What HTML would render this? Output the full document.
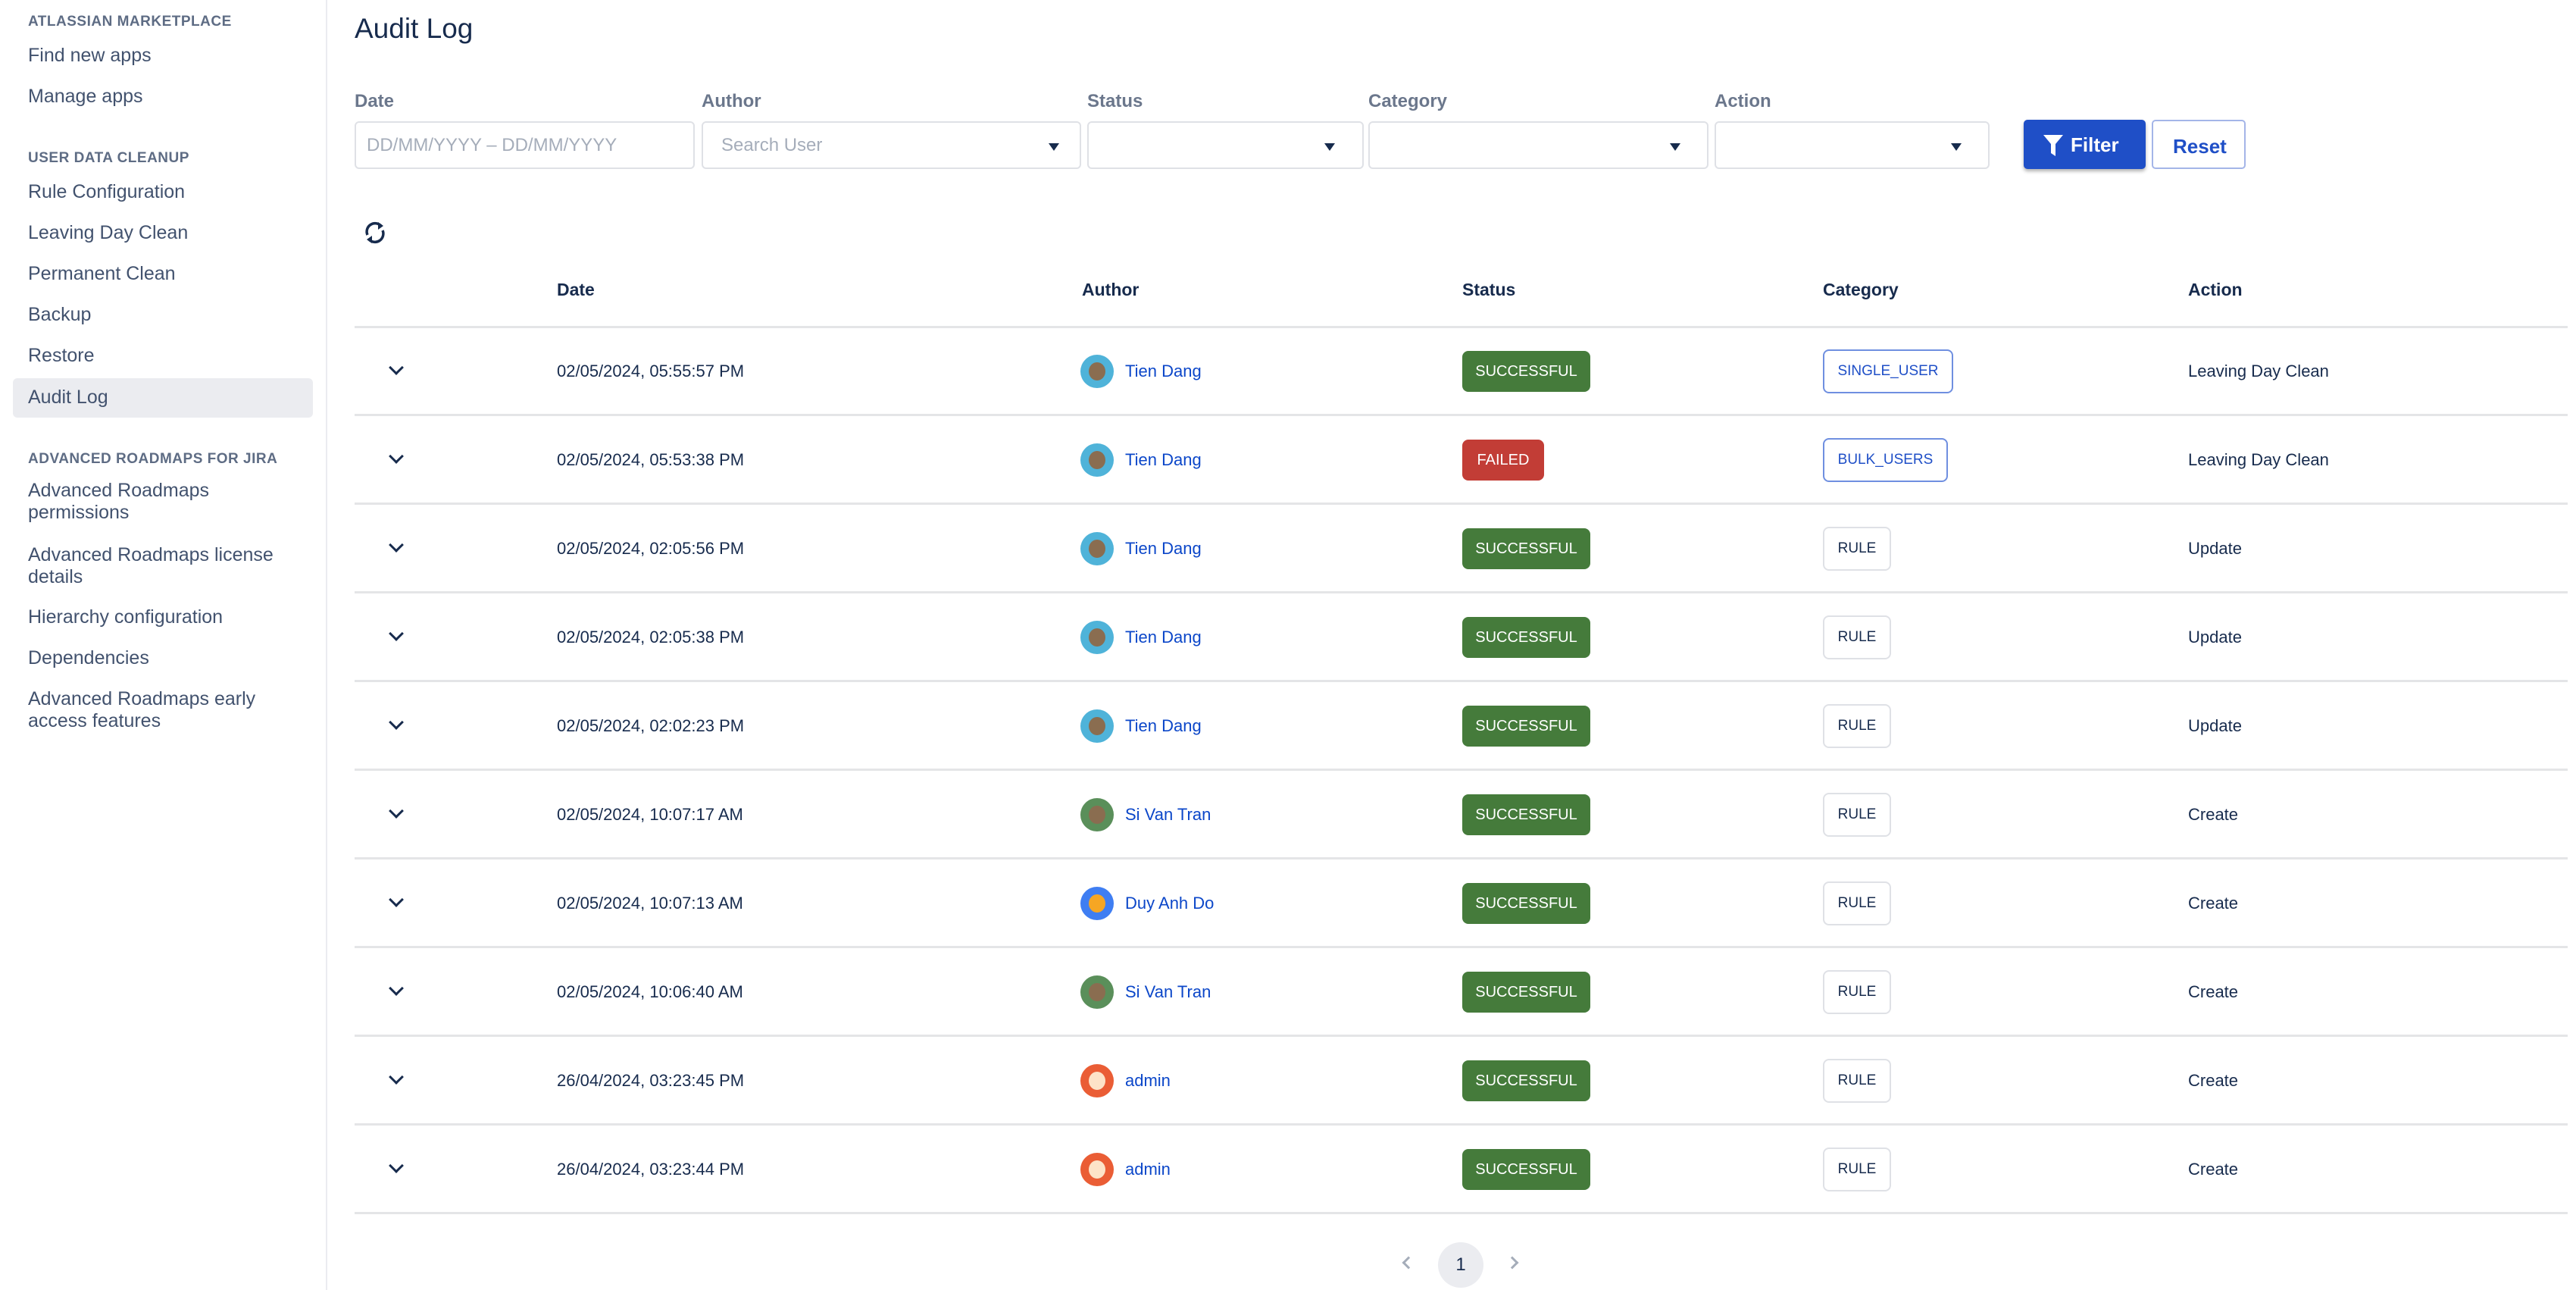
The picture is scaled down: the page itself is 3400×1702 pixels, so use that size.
<!DOCTYPE html>
<html><head><meta charset="utf-8"><style>
*{margin:0;padding:0;box-sizing:border-box}
body{width:3400px;height:1702px;background:#fff;font-family:"Liberation Sans",sans-serif;color:#172b4d;position:relative;overflow:hidden}
.a{position:absolute;white-space:nowrap}
.sb{position:absolute;left:0;top:0;width:432px;height:1702px;border-right:2px solid #ebecf0}
.sh{position:absolute;left:37px;font-size:19px;font-weight:bold;color:#5e6c84;letter-spacing:0.5px}
.ni{position:absolute;left:37px;font-size:25px;color:#42526e;line-height:29px}
.lbl{position:absolute;top:120px;font-size:24px;font-weight:bold;color:#6b778c}
.inp{position:absolute;top:160px;height:63px;border:2px solid #dfe1e6;border-radius:6px;background:#fff}
.tri{position:absolute;top:27px;width:0;height:0;border-left:7px solid transparent;border-right:7px solid transparent;border-top:10px solid #172b4d}
.th{position:absolute;top:369px;font-size:23px;font-weight:bold;color:#172b4d}
.line{position:absolute;left:468px;width:2921px;height:3px;background:#e4e5e7}
.cell{position:absolute;font-size:22px;color:#172b4d}
.badge{position:absolute;height:54px;border-radius:8px;color:#fff;font-size:20px;line-height:54px;text-align:center}
.cat{position:absolute;height:58px;border:2px solid #dfe1e6;border-radius:8px;font-size:19px;line-height:54px;text-align:center;color:#172b4d}
.av{position:absolute;width:44px;height:44px;border-radius:50%}
.nm{position:absolute;font-size:22px;color:#0c47c9}
.chev{position:absolute;width:14px;height:14px;border-right:3px solid #172b4d;border-bottom:3px solid #172b4d;transform:rotate(45deg)}
</style></head><body>
<div class="sb"></div>
<div class="sh" style="top:18px">ATLASSIAN MARKETPLACE</div>
<div class="ni" style="top:59px">Find new apps</div>
<div class="ni" style="top:113px">Manage apps</div>
<div class="sh" style="top:198px">USER DATA CLEANUP</div>
<div class="ni" style="top:239px">Rule Configuration</div>
<div class="ni" style="top:293px">Leaving Day Clean</div>
<div class="ni" style="top:347px">Permanent Clean</div>
<div class="ni" style="top:401px">Backup</div>
<div class="ni" style="top:455px">Restore</div>
<div class="a" style="left:17px;top:499px;width:396px;height:52px;background:#ebecf0;border-radius:6px"></div>
<div class="ni" style="top:510px">Audit Log</div>
<div class="sh" style="top:595px">ADVANCED ROADMAPS FOR JIRA</div>
<div class="ni" style="top:633px">Advanced Roadmaps<br>permissions</div>
<div class="ni" style="top:718px">Advanced Roadmaps license<br>details</div>
<div class="ni" style="top:800px">Hierarchy configuration</div>
<div class="ni" style="top:854px">Dependencies</div>
<div class="ni" style="top:908px">Advanced Roadmaps early<br>access features</div>

<div class="a" style="left:468px;top:17px;font-size:37px;color:#172b4d">Audit Log</div>

<div class="lbl" style="left:468px">Date</div>
<div class="lbl" style="left:926px">Author</div>
<div class="lbl" style="left:1435px">Status</div>
<div class="lbl" style="left:1806px">Category</div>
<div class="lbl" style="left:2263px">Action</div>
<div class="inp" style="left:468px;width:449px"><span class="a" style="left:14px;top:16px;font-size:24px;color:#a5adba">DD/MM/YYYY – DD/MM/YYYY</span></div>
<div class="inp" style="left:926px;width:501px"><span class="a" style="left:24px;top:16px;font-size:24px;color:#a5adba">Search User</span><div class="tri" style="left:456px"></div></div>
<div class="inp" style="left:1435px;width:365px"><div class="tri" style="left:311px"></div></div>
<div class="inp" style="left:1806px;width:449px"><div class="tri" style="left:396px"></div></div>
<div class="inp" style="left:2263px;width:363px"><div class="tri" style="left:310px"></div></div>
<div class="a" style="left:2671px;top:158px;width:161px;height:65px;background:#1f4fc7;border-radius:5px;box-shadow:0 3px 5px rgba(0,0,0,.3)">
<svg class="a" style="left:26px;top:20px" width="26" height="28" viewBox="0 0 26 28"><path d="M0 0H26L16 12V28L10 24V12Z" fill="#fff"/></svg>
<span class="a" style="left:62px;top:18px;font-size:26px;font-weight:bold;color:#fff">Filter</span></div>
<div class="a" style="left:2840px;top:158px;width:124px;height:65px;border:2px solid #a4b5e8;border-radius:5px"><span class="a" style="left:26px;top:18px;font-size:26px;font-weight:bold;color:#1f4fc7">Reset</span></div>

<svg class="a" style="left:479px;top:290px" width="32" height="34" viewBox="0 0 32 34"><path d="M6 20A11 11 0 0 1 24 8" stroke="#172b4d" stroke-width="3.5" fill="none"/><path d="M20 3L27 8L20 13Z" fill="#172b4d"/><path d="M26 14A11 11 0 0 1 8 26" stroke="#172b4d" stroke-width="3.5" fill="none"/><path d="M12 31L5 26L12 21Z" fill="#172b4d"/></svg>

<div class="th" style="left:735px">Date</div>
<div class="th" style="left:1428px">Author</div>
<div class="th" style="left:1930px">Status</div>
<div class="th" style="left:2406px">Category</div>
<div class="th" style="left:2888px">Action</div>
<div class="line" style="top:430px"></div>

<div id="rows"></div>
<script>
var d=[["02/05/2024, 05:55:57 PM","Tien Dang","S","SINGLE_USER","Leaving Day Clean"],
["02/05/2024, 05:53:38 PM","Tien Dang","F","BULK_USERS","Leaving Day Clean"],
["02/05/2024, 02:05:56 PM","Tien Dang","S","RULE","Update"],
["02/05/2024, 02:05:38 PM","Tien Dang","S","RULE","Update"],
["02/05/2024, 02:02:23 PM","Tien Dang","S","RULE","Update"],
["02/05/2024, 10:07:17 AM","Si Van Tran","S","RULE","Create"],
["02/05/2024, 10:07:13 AM","Duy Anh Do","S","RULE","Create"],
["02/05/2024, 10:06:40 AM","Si Van Tran","S","RULE","Create"],
["26/04/2024, 03:23:45 PM","admin","S","RULE","Create"],
["26/04/2024, 03:23:44 PM","admin","S","RULE","Create"]];
var av={"Tien Dang":"#4fb3d9","Si Van Tran":"#5a8f5a","Duy Anh Do":"#3f7ef2","admin":"#ea5d35"};
var h="";
for(var i=0;i<d.length;i++){var c=490+117*i;var r=d[i];
h+='<div class="chev" style="left:516px;top:'+(c-12)+'px"></div>';
h+='<div class="cell" style="left:735px;top:'+(c-13)+'px">'+r[0]+'</div>';
h+='<div class="av" style="left:1426px;top:'+(c-22)+'px;background:'+av[r[1]]+'"><div class="av" style="left:11px;top:10px;width:22px;height:24px;background:'+(r[1]=="admin"?"#fde3c8":r[1]=="Duy Anh Do"?"#f6a623":"#8a6d50")+'"></div></div>';
h+='<div class="nm" style="left:1485px;top:'+(c-13)+'px">'+r[1]+'</div>';
if(r[2]=="S")h+='<div class="badge" style="left:1930px;top:'+(c-27)+'px;width:169px;background:#457b3b">SUCCESSFUL</div>';
else h+='<div class="badge" style="left:1930px;top:'+(c-27)+'px;width:108px;background:#c23d36">FAILED</div>';
var w=r[3]=="SINGLE_USER"?172:r[3]=="BULK_USERS"?165:90;
var bc=r[3]=="RULE"?"#dfe1e6":"#6f8fe0";var tc=r[3]=="RULE"?"#172b4d":"#1f4fc7";
h+='<div class="cat" style="left:2406px;top:'+(c-29)+'px;width:'+w+'px;border-color:'+bc+';color:'+tc+'">'+r[3]+'</div>';
h+='<div class="cell" style="left:2888px;top:'+(c-13)+'px">'+r[4]+'</div>';
h+='<div class="line" style="top:'+(c+56)+'px"></div>';}
document.getElementById("rows").innerHTML=h;
</script>

<div class="a" style="left:1853px;top:1660px;width:12px;height:12px;border-left:3px solid #a5adba;border-bottom:3px solid #a5adba;transform:rotate(45deg)"></div>
<div class="a" style="left:1898px;top:1639px;width:60px;height:60px;border-radius:50%;background:#ebecf0;font-size:24px;line-height:60px;text-align:center;color:#172b4d">1</div>
<div class="a" style="left:1990px;top:1660px;width:12px;height:12px;border-right:3px solid #a5adba;border-top:3px solid #a5adba;transform:rotate(45deg)"></div>
</body></html>
